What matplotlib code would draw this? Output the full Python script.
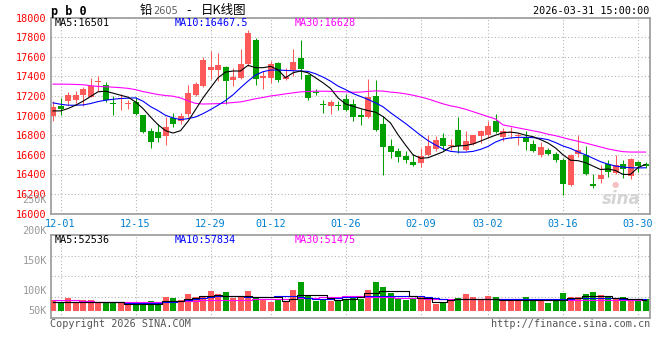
import numpy as np
import pandas as pd
import matplotlib
matplotlib.use('Agg')
import matplotlib.pyplot as plt

# trading days shown (Nov 28 2025 .. Mar 31 2026, minus holidays)
holidays = ['2026-01-01', '2026-01-02', '2026-02-16', '2026-02-17', '2026-02-18',
            '2026-02-19', '2026-02-20', '2026-02-23']
days = pd.bdate_range('2025-11-28', '2026-03-31')
days = days[~days.isin(pd.to_datetime(holidays))]
day_labels = list(days.strftime('%m-%d'))
tick_labels = ['12-01', '12-15', '12-29', '01-12', '01-26', '02-09', '03-02', '03-16', '03-30']

opens = [16993, 17102, 17147, 17160, 17212, 17191, 17338, 17311, 17130, 17165,
         17118, 17140, 17010, 16839, 16832, 16795, 16976, 16942, 17017, 17208,
         17301, 17461, 17461, 17496, 17359, 17379, 17523, 17776, 17379, 17379,
         17540, 17369, 17461, 17591, 17413, 17242, 17116, 17096, 17099, 17174,
         17119, 16996, 16986, 17198, 16914, 16685, 16634, 16589, 16531, 16514,
         16599, 16661, 16771, 16688, 16856, 16651, 16709, 16788, 16798, 16948,
         16778, 16825, 16795, 16778, 16709, 16593, 16648, 16606, 16548, 16292,
         16606, 16593, 16302, 16350, 16504, 16411, 16504, 16387, 16531, 16507]
highs = [17147, 17181, 17236, 17246, 17287, 17386, 17400, 17345, 17198, 17222,
         17164, 17191, 17010, 16873, 16914, 16983, 17027, 17027, 17308, 17345,
         17598, 17660, 17643, 17506, 17489, 17677, 17872, 17790, 17455, 17557,
         17545, 17489, 17684, 17769, 17420, 17273, 17164, 17164, 17147, 17222,
         17174, 17072, 17376, 17359, 16993, 16764, 16668, 16634, 16606, 16668,
         16798, 16788, 16822, 16760, 16986, 16846, 16805, 16856, 16942, 17017,
         16873, 16880, 16822, 16839, 16750, 16730, 16668, 16627, 16572, 16610,
         16798, 16685, 16401, 16497, 16548, 16599, 16548, 16565, 16540, 16530]
lows = [16942, 17003, 17106, 17127, 17102, 17188, 17246, 17140, 17010, 17061,
        17072, 17003, 16822, 16668, 16730, 16702, 16880, 16914, 16990, 17198,
        17290, 17369, 17352, 17119, 17301, 17370, 17510, 17308, 17267, 17335,
        17345, 17360, 17403, 17369, 17164, 17210, 17027, 17017, 17061, 17050,
        16942, 16907, 16976, 16846, 16394, 16565, 16524, 16514, 16490, 16480,
        16590, 16641, 16651, 16651, 16617, 16640, 16700, 16719, 16771, 16820,
        16736, 16770, 16695, 16651, 16630, 16582, 16595, 16531, 16190, 16285,
        16582, 16390, 16258, 16312, 16377, 16400, 16367, 16350, 16420, 16470]
closes = [17085, 17072, 17212, 17208, 17270, 17301, 17345, 17160, 17120, 17175,
          17128, 17017, 16832, 16730, 16771, 16880, 16914, 17000, 17232, 17318,
          17564, 17496, 17513, 17352, 17393, 17523, 17838, 17369, 17400, 17523,
          17359, 17393, 17550, 17472, 17181, 17229, 17110, 17140, 17093, 17061,
          16989, 16990, 17191, 16856, 16675, 16627, 16582, 16548, 16497, 16589,
          16692, 16754, 16692, 16695, 16685, 16743, 16798, 16846, 16897, 16832,
          16846, 16832, 16800, 16730, 16641, 16678, 16606, 16548, 16299, 16599,
          16648, 16401, 16285, 16394, 16421, 16497, 16456, 16558, 16487, 16487]

ma5 = [17048, 17048, 17072, 17106, 17147, 17195, 17243, 17249, 17229, 17208,
       17188, 17140, 17072, 16986, 16907, 16846, 16822, 16846, 16942, 17061,
       17181, 17284, 17386, 17444, 17455, 17455, 17513, 17489, 17489, 17502,
       17468, 17386, 17437, 17455, 17437, 17386, 17335, 17277, 17181, 17119,
       17095, 17072, 17051, 17035, 16990, 16925, 16805, 16700, 16600, 16565,
       16570, 16600, 16630, 16680, 16690, 16695, 16710, 16740, 16771, 16800,
       16825, 16832, 16822, 16800, 16785, 16755, 16720, 16670, 16600, 16545,
       16540, 16520, 16485, 16450, 16455, 16440, 16400, 16400, 16470, 16501]
ma10 = [17130, 17116, 17106, 17106, 17109, 17123, 17143, 17157, 17167, 17174,
        17178, 17181, 17147, 17092, 17051, 17003, 16976, 16959, 16969, 16986,
        17020, 17061, 17106, 17154, 17212, 17284, 17352, 17414, 17448, 17465,
        17465, 17461, 17458, 17455, 17451, 17427, 17393, 17352, 17301, 17266,
        17225, 17195, 17165, 17130, 17090, 17030, 16975, 16920, 16860, 16800,
        16745, 16700, 16660, 16635, 16628, 16627, 16635, 16655, 16685, 16730,
        16760, 16772, 16778, 16778, 16775, 16768, 16755, 16725, 16690, 16665,
        16630, 16600, 16565, 16530, 16505, 16485, 16475, 16468, 16466, 16467.5]
ma30 = [17321, 17321, 17320, 17318, 17315, 17305, 17298, 17294, 17290, 17285,
        17278, 17265, 17245, 17230, 17215, 17205, 17198, 17180, 17150, 17125,
        17118, 17120, 17122, 17126, 17133, 17140, 17155, 17172, 17185, 17200,
        17210, 17222, 17232, 17242, 17246, 17249, 17249, 17247, 17245, 17243,
        17238, 17240, 17247, 17252, 17250, 17240, 17233, 17222, 17208, 17190,
        17170, 17145, 17120, 17100, 17085, 17065, 17040, 17015, 16990, 16965,
        16905, 16890, 16875, 16860, 16845, 16830, 16810, 16795, 16775, 16755,
        16738, 16720, 16700, 16680, 16660, 16645, 16632, 16628, 16628, 16628]

# volume in thousands of lots
volumes = [52, 44, 62, 39, 51, 52, 41, 41, 41, 39,
           39, 38, 28, 46, 33, 67, 62, 52, 82, 67,
           73, 96, 82, 91, 62, 72, 96, 69, 52, 44,
           57, 47, 101, 142, 72, 47, 56, 47, 47, 56,
           72, 56, 101, 142, 118, 88, 64, 52, 64, 67,
           52, 33, 44, 56, 64, 82, 67, 56, 72, 65,
           56, 47, 47, 65, 56, 47, 38, 56, 88, 65,
           65, 82, 91, 77, 65, 56, 65, 56, 56, 56]
vol_ma5 = [43, 43, 43, 43, 43, 43, 43, 43, 43, 43,
           35, 35, 32, 32, 32, 46, 46, 46, 57, 62,
           70, 70, 78, 73, 73, 70, 70, 65, 65, 65,
           65, 49, 59, 78, 78, 78, 78, 62, 54, 59,
           59, 65, 86, 86, 97, 97, 97, 94, 70, 62,
           62, 43, 43, 54, 59, 59, 59, 59, 59, 59,
           54, 54, 54, 54, 54, 54, 54, 54, 54, 62,
           62, 70, 70, 70, 70, 62, 62, 58, 55, 52.5]
vol_ma10 = [43, 43, 43, 43, 43, 43, 43, 43, 43, 43,
            40, 40, 40, 40, 40, 43, 43, 45, 50, 56,
            62, 66, 70, 70, 70, 70, 68, 66, 66, 66,
            70, 70, 70, 66, 62, 59, 59, 59, 62, 65,
            65, 65, 70, 73, 73, 73, 73, 73, 70, 70,
            68, 62, 56, 54, 56, 59, 59, 59, 59, 59,
            57, 57, 56, 56, 56, 56, 56, 56, 57, 59,
            60, 62, 62, 62, 62, 60, 59, 58, 58, 57.8]
vol_ma30 = [52, 52, 52, 52, 48, 46, 44, 43, 43, 43,
            43, 43, 43, 43, 43, 44, 46, 46, 47, 48,
            50, 51, 51, 51, 51, 52, 54, 55, 56, 57,
            57, 57, 58, 60, 62, 64, 66, 68, 69, 70,
            70, 70, 69, 68, 67, 66, 64, 62, 61, 60,
            59, 59, 59, 59, 59, 59, 58, 58, 57, 57,
            56, 56, 55, 55, 54, 54, 54, 53, 53, 53,
            53, 52, 52, 52, 52, 52, 52, 51.5, 51.5, 51.5]

RED = '#ff5a5a'
GREEN = '#00a000'
GRIDC = '#b4b4b4'
BORDER = '#a0a0a0'
MONO = 'DejaVu Sans Mono'
W, H = 660, 360

x = np.arange(len(days))
o = np.array(opens)
c = np.array(closes)
up = c >= o
cols = [RED if u else GREEN for u in up]
tick_pos = [day_labels.index(t) for t in tick_labels]

fig = plt.figure(figsize=(W / 100, H / 100), dpi=100)
fig.patch.set_facecolor('white')


def px_box(left, top, right, bottom):
    return [left / W, 1 - bottom / H, (right - left) / W, (bottom - top) / H]


def ftext(px, py, s, **kw):
    fig.text(px / W, 1 - py / H, s, **kw)


ax = fig.add_axes(px_box(50.7, 17.6, 650, 213.6))
ax2 = fig.add_axes(px_box(50.7, 235, 650, 318))

for a in (ax, ax2):
    for sp in a.spines.values():
        sp.set_color(BORDER)
        sp.set_linewidth(1.3)
    a.set_xlim(-0.31, 79.6)
    a.set_xticks(tick_pos)
    a.tick_params(length=0)
    a.grid(True, color=GRIDC, linestyle=(0, (1, 2)), linewidth=0.8)
    a.set_axisbelow(True)

# price panel
ax.set_ylim(16000, 18000)
ax.set_yticks(np.arange(16000, 18001, 200))
ax.set_yticklabels([str(v) for v in range(16000, 18001, 200)],
                   family=MONO, fontsize=7.3, color='#ff0000')
ax.tick_params(axis='y', pad=3)
ax.set_xticklabels(tick_labels, family=MONO, fontsize=7.3, color='#0080d0')
ax.tick_params(axis='x', pad=4)

ax.vlines(x, lows, highs, colors=cols, linewidth=0.75, zorder=2)
body_h = np.maximum(np.abs(c - o), 12)
ax.bar(x, body_h, bottom=np.minimum(o, c), width=0.8, color=cols,
       linewidth=0, zorder=3)
ax.plot(x, ma30, color='#ff00ff', linewidth=0.8, zorder=4)
ax.plot(x, ma10, color='#0000ff', linewidth=0.8, zorder=4)
ax.plot(x, ma5, color='black', linewidth=0.8, zorder=5)

# volume panel
ax2.set_ylim(-36, 371)
ax2.set_yticks(np.linspace(-36, 371, 5)[1:-1])
ax2.set_yticklabels([])
ax2.set_xticklabels([])
ax2.bar(x, volumes, width=0.8, color=cols, linewidth=0, zorder=3)
ax2.plot(x, vol_ma30, color='#ff00ff', linewidth=0.8, drawstyle='steps-mid', zorder=4)
ax2.plot(x, vol_ma10, color='#0000ff', linewidth=0.8, drawstyle='steps-mid', zorder=4)
ax2.plot(x, vol_ma5, color='black', linewidth=0.8, drawstyle='steps-mid', zorder=5)

# header texts
ftext(51, 11.5, 'p b 0', family=MONO, fontsize=8.5, weight='bold', va='center')
ftext(140, 10.5, '铅', family=['Noto Sans CJK SC'], fontsize=9, va='center')
ftext(153, 11, '2605', family=['DejaVu Sans'], fontsize=7, color='#606060', va='center')
ftext(186, 10.5, '-', family=['DejaVu Sans'], fontsize=9, va='center')
ftext(201, 10.5, '日K线图', family=['Noto Sans CJK SC'], fontsize=9, va='center')
ftext(649, 11.5, '2026-03-31 15:00:00', family=MONO, fontsize=7.3, ha='right', va='center')

ftext(55, 23.5, 'MA5:16501', family=MONO, fontsize=7.3, color='black', va='center')
ftext(175, 23.5, 'MA10:16467.5', family=MONO, fontsize=7.3, color='#0000ff', va='center')
ftext(295, 23.5, 'MA30:16628', family=MONO, fontsize=7.3, color='#ff00ff', va='center')

ftext(55, 240, 'MA5:52536', family=MONO, fontsize=7.3, color='black', va='center')
ftext(175, 240, 'MA10:57834', family=MONO, fontsize=7.3, color='#0000ff', va='center')
ftext(295, 240, 'MA30:51475', family=MONO, fontsize=7.3, color='#ff00ff', va='center')

# volume axis labels (as laid out on the original)
vol_labels = ['250K', '200K', '150K', '100K', '50K']
vol_label_y = [200, 230.7, 260.7, 290.7, 310.7]
for s, yy in zip(vol_labels, vol_label_y):
    ftext(47, yy, s, family=MONO, fontsize=7.3, color='#999999', ha='right', va='center')

ftext(50, 324, 'Copyright 2026 SINA.COM', family=MONO, fontsize=7.3, color='#555555',
      va='center')
ftext(650, 324, 'http://finance.sina.com.cn', family=MONO, fontsize=7.3,
      color='#555555', ha='right', va='center')

# watermark
ftext(621, 199, 'sina', family=['DejaVu Sans'], fontsize=12, weight='bold',
      style='italic', color='#d4d4d4', ha='center', va='center')
ftext(615, 185, '●', family=['DejaVu Sans'], fontsize=6, color='#f5c0c0',
      ha='center', va='center')

fig.savefig('out.png', dpi=100, facecolor='white')
